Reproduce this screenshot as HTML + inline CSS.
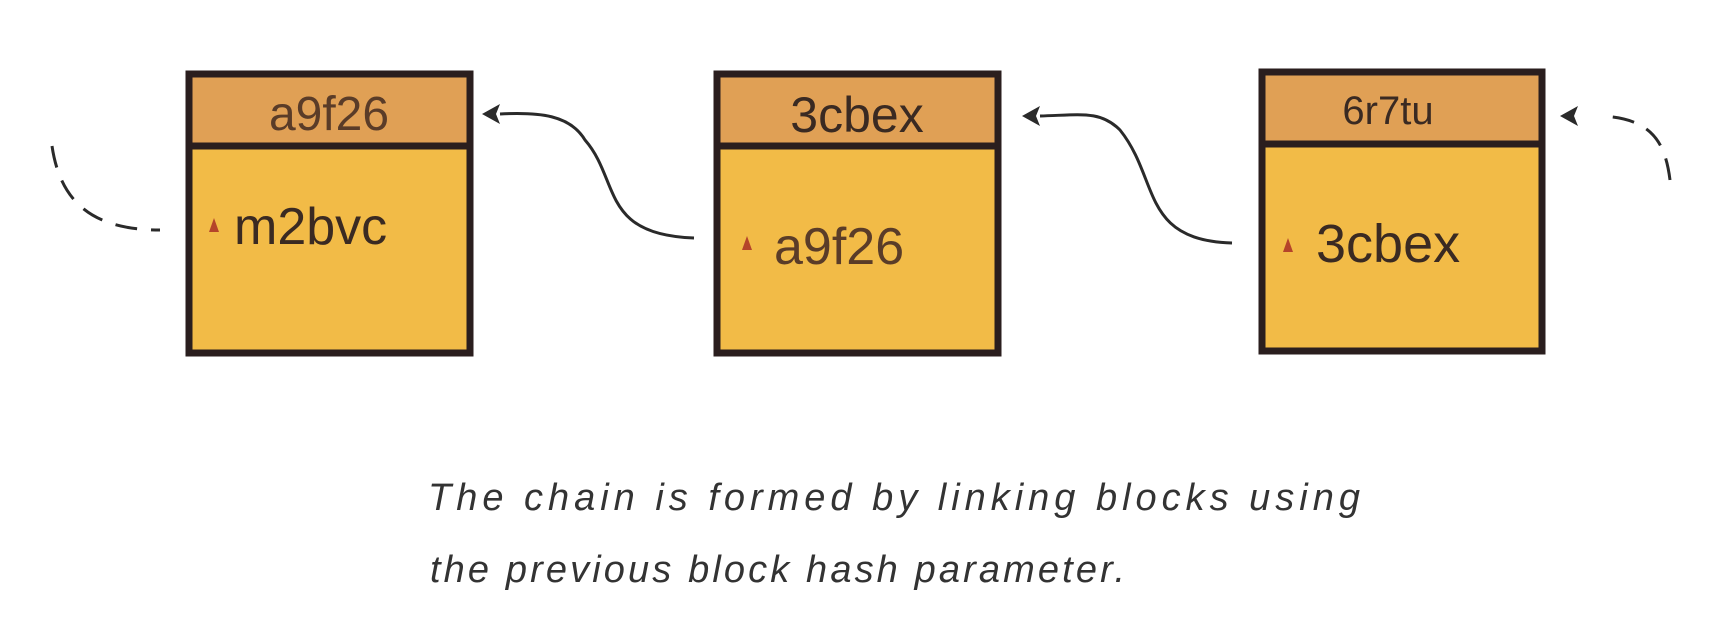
<!DOCTYPE html>
<html><head><style>
body{margin:0;background:#fff;}
svg{display:block}
</style></head><body>
<svg width="1713" height="617" viewBox="0 0 1713 617" xmlns="http://www.w3.org/2000/svg" font-family="'Liberation Sans', sans-serif">
<g stroke="#2a1e1e" stroke-width="7">
<rect x="189" y="74" width="281" height="279" fill="#f2bb47"/>
<rect x="189" y="74" width="281" height="72" fill="#e0a055"/>
<rect x="717" y="74" width="281" height="279" fill="#f2bb47"/>
<rect x="717" y="74" width="281" height="72" fill="#e0a055"/>
<rect x="1262" y="72" width="280" height="279" fill="#f2bb47"/>
<rect x="1262" y="72" width="280" height="72" fill="#e0a055"/>
</g>
<g font-size="50" fill="#3a2a22">
<text x="329" y="130" text-anchor="middle" fill="#5a3c28" font-size="48">a9f26</text>
<text x="857" y="132" text-anchor="middle">3cbex</text>
<text x="1388" y="124" text-anchor="middle" font-size="40">6r7tu</text>
<text x="234" y="244" font-size="52">m2bvc</text>
<text x="774" y="264" fill="#5a3c28" font-size="52">a9f26</text>
<text x="1316" y="262" font-size="54">3cbex</text>
</g>
<g fill="#b5442a">
<path d="M209 232 l5 -14 l5 14 z"/>
<path d="M742 250 l5 -14 l5 14 z"/>
<path d="M1283 252 l5 -14 l5 14 z"/>
</g>
<g fill="none" stroke="#2a2a2a" stroke-width="3">
<path d="M694 238 C600 235 620 180 585 140 C570 115 540 112 500 114"/>
<path d="M1232 243 C1140 240 1160 180 1120 130 C1100 110 1080 115 1040 116"/>
<path d="M1670 180 C1665 140 1650 118 1600 116" stroke-dasharray="22 14"/>
<path d="M52 146 C60 200 90 230 160 230" stroke-dasharray="22 14"/>
</g>
<g fill="#2a2a2a">
<path d="M482 114 l18 -10 l-4 10 l4 10 z"/>
<path d="M1022 116 l18 -10 l-4 10 l4 10 z"/>
<path d="M1560 116 l18 -10 l-4 10 l4 10 z"/>
</g>
<g font-size="38" fill="#333" font-style="italic" font-family="'Liberation Sans', sans-serif">
<text x="428" y="510" textLength="932" lengthAdjust="spacing">The  chain  is  formed  by  linking  blocks  using</text>
<text x="430" y="582" textLength="695" lengthAdjust="spacing">the  previous  block  hash  parameter.</text>
</g>
</svg>
</body></html>
